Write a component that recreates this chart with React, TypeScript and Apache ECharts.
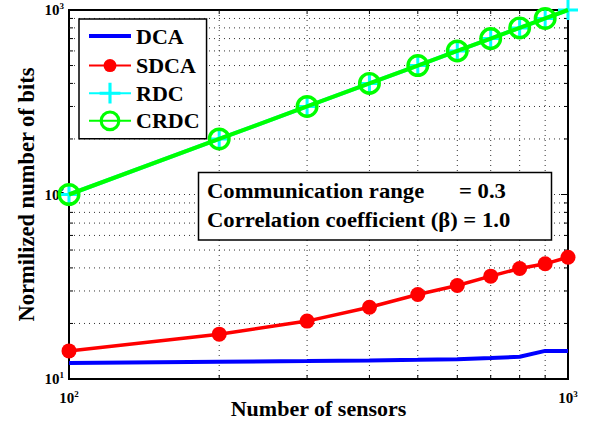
import React, { useEffect, useRef } from 'react';
import * as echarts from 'echarts';

// Number of sensors on the x axis
const sensors = [100, 200, 300, 400, 500, 600, 700, 800, 900, 1000];

// Normalized number of bits per scheme
const dcaBits = [12.2, 12.4, 12.5, 12.6, 12.7, 12.8, 13.0, 13.2, 14.2, 14.2];
const sdcaBits = [14.2, 17.5, 20.6, 24.5, 28.7, 32.1, 36.1, 39.7, 42.1, 45.7];
const rdcBits = [100, 200, 300, 400, 500, 600, 700, 800, 900, 1000];
const crdcBits = [100, 200, 300, 400, 500, 600, 700, 800, 900, 1000];

// Log-grid positions (minor decades and the inner major line)
const xMinorTicks = [200, 300, 400, 500, 600, 700, 800, 900];
const yMinorTicks = [20, 30, 40, 50, 60, 70, 80, 90, 200, 300, 400, 500, 600, 700, 800, 900];
const yMajorInner = [100];

const seriesNames = ['DCA', 'SDCA', 'RDC', 'CRDC'];

const FONT = "'Liberation Serif', 'Times New Roman', Times, serif";

// Marker shapes (invisible move-to points pad the box so legend sizes stay proportional)
const DOT = 'path://M0,0M20,20M3.75,10a6.25,6.25 0 1,0 12.5,0a6.25,6.25 0 1,0 -12.5,0z';
const PLUS = 'path://M8.5,0h3v8.5h8.5v3h-8.5v8.5h-3v-8.5h-8.5v-3h8.5z';
const RING = 'path://M0,10a10,10 0 1,0 20,0a10,10 0 1,0 -20,0zM3,10a7,7 0 1,1 14,0a7,7 0 1,1 -14,0z';
const BAR = 'path://M0,0M42,26M0,11h42v4h-42z';

export default function App() {
  const ref = useRef<HTMLDivElement>(null);

  useEffect(() => {
    const chart = echarts.init(ref.current!, null, { renderer: 'svg' });
    const pairs = (ys: number[]) => sensors.map((x, i) => [x, ys[i]]);

    // [x, y, orientation (0 vertical / 1 horizontal), part (0 grid line, 1 low/left tick, 2 high/right tick), tick length]
    const gridData: number[][] = [];
    xMinorTicks.forEach((v) => [0, 1, 2].forEach((part) => gridData.push([v, 10, 0, part, 4])));
    yMinorTicks.forEach((v) => [0, 1, 2].forEach((part) => gridData.push([100, v, 1, part, 4])));
    yMajorInner.forEach((v) => [0, 1, 2].forEach((part) => gridData.push([100, v, 1, part, 7])));

    const tickLabel = (v: number) => `{b|10}{s|${Math.round(Math.log10(v))}}`;
    const labelRich = {
      b: { fontFamily: FONT, fontWeight: 'bold', fontSize: 15, color: '#000' },
      s: { fontFamily: FONT, fontWeight: 'bold', fontSize: 9, color: '#000', padding: [0, 0, 9, 0] },
    };

    const crdcData: any[] = pairs(crdcBits).map((p, i) =>
      i === crdcBits.length - 1 ? { value: p, symbol: 'none' } : p
    );

    const bigText = { fontFamily: FONT, fontWeight: 'bold', fontSize: 21, fill: '#000', verticalAlign: 'middle' };

    chart.setOption({
      animation: false,
      backgroundColor: '#fff',
      grid: {
        left: 69,
        right: 24,
        top: 10,
        bottom: 47,
        outerBoundsMode: 'none',
        containLabel: false,
        show: true,
        borderColor: '#000',
        borderWidth: 2,
      },
      xAxis: {
        type: 'log',
        logBase: 10,
        min: 100,
        max: 1000,
        name: 'Number of sensors',
        nameLocation: 'middle',
        nameGap: 18,
        nameMoveOverlap: false,
        nameTextStyle: { fontFamily: FONT, fontWeight: 'bold', fontSize: 22, color: '#000' },
        axisLine: { show: false },
        axisTick: { show: false },
        splitLine: { show: false },
        axisLabel: { margin: 10, formatter: tickLabel, rich: labelRich, showMinLabel: true, showMaxLabel: true },
      },
      yAxis: {
        type: 'log',
        logBase: 10,
        min: 10,
        max: 1000,
        name: 'Normilized number of bits',
        nameLocation: 'middle',
        nameGap: 31,
        nameRotate: 90,
        nameMoveOverlap: false,
        nameTextStyle: { fontFamily: FONT, fontWeight: 'bold', fontSize: 22.5, color: '#000' },
        axisLine: { show: false },
        axisTick: { show: false },
        splitLine: { show: false },
        axisLabel: { margin: 5, formatter: tickLabel, rich: labelRich, showMinLabel: true, showMaxLabel: true },
      },
      legend: {
        left: 79,
        top: 19,
        orient: 'vertical',
        itemWidth: 42,
        itemHeight: 26,
        itemGap: 5.6,
        padding: [4, 7, 7, 9],
        borderColor: '#000',
        borderWidth: 1.5,
        borderRadius: 0,
        backgroundColor: '#fff',
        selectedMode: false,
        textStyle: { fontFamily: FONT, fontWeight: 'bold', fontSize: 22, color: '#000' },
        data: [{ name: seriesNames[0], icon: BAR }, seriesNames[1], seriesNames[2], seriesNames[3]],
      },
      graphic: [
        {
          type: 'rect',
          z: 10,
          shape: { x: 198.5, y: 172.5, width: 353, height: 67.5 },
          style: { fill: '#fff', stroke: '#000', lineWidth: 1.5 },
        },
        { type: 'text', z: 11, x: 207, y: 191, scaleX: 1.08, style: { ...bigText, text: 'Communication range' } },
        { type: 'text', z: 11, x: 459, y: 191, scaleX: 1.08, style: { ...bigText, text: '= 0.3' } },
        { type: 'text', z: 11, x: 207, y: 220, scaleX: 1.08, style: { ...bigText, text: 'Correlation coefficient (β) = 1.0' } },
      ],
      series: [
        {
          name: 'log-grid',
          type: 'custom',
          silent: true,
          encode: { x: 0, y: 1 },
          data: gridData,
          renderItem: (params: any, api: any) => {
            const cs = params.coordSys;
            const orient = api.value(2);
            const part = api.value(3);
            const len = api.value(4);
            const p = api.coord([api.value(0), api.value(1)]);
            const top = cs.y;
            const bot = cs.y + cs.height;
            const left = cs.x;
            const right = cs.x + cs.width;
            let shape;
            if (orient === 0) {
              const x = p[0];
              shape =
                part === 0 ? { x1: x, y1: top, x2: x, y2: bot }
                : part === 1 ? { x1: x, y1: bot, x2: x, y2: bot - len }
                : { x1: x, y1: top, x2: x, y2: top + len };
            } else {
              const y = p[1];
              shape =
                part === 0 ? { x1: left, y1: y, x2: right, y2: y }
                : part === 1 ? { x1: left, y1: y, x2: left + len, y2: y }
                : { x1: right, y1: y, x2: right - len, y2: y };
            }
            return {
              type: 'line',
              shape,
              style: part === 0
                ? { stroke: '#333', lineWidth: 1, lineDash: [1, 4] }
                : { stroke: '#000', lineWidth: 1 },
            };
          },
        },
        {
          name: 'DCA',
          type: 'line',
          z: 3,
          silent: true,
          color: '#0000ff',
          symbol: 'none',
          lineStyle: { width: 4, color: '#0000ff' },
          data: pairs(dcaBits),
        },
        {
          name: 'SDCA',
          type: 'line',
          z: 4,
          silent: true,
          color: '#ff0000',
          symbol: DOT,
          symbolSize: 24,
          lineStyle: { width: 3.5, color: '#ff0000' },
          data: pairs(sdcaBits),
        },
        {
          name: 'RDC',
          type: 'line',
          z: 5,
          silent: true,
          color: '#00ffff',
          symbol: PLUS,
          symbolSize: 20,
          lineStyle: { width: 4, color: '#00ffff' },
          data: pairs(rdcBits),
        },
        {
          name: 'CRDC',
          type: 'line',
          z: 6,
          silent: true,
          color: '#00ff00',
          symbol: RING,
          symbolSize: 23,
          lineStyle: { width: 4, color: '#00ff00' },
          data: crdcData,
        },
      ],
    });

    return () => chart.dispose();
  }, []);

  return <div ref={ref} style={{ position: 'fixed', left: 0, top: 0, width: 592, height: 426 }} />;
}
